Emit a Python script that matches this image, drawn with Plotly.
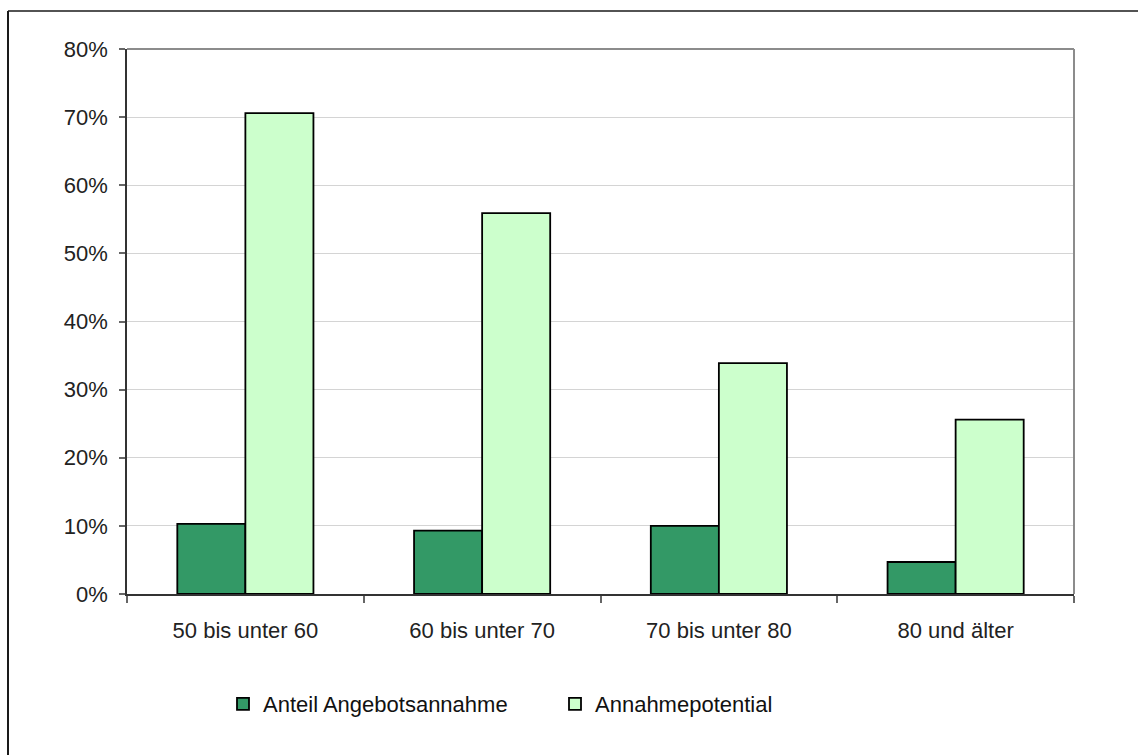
import plotly.graph_objects as go

# Altersgruppen und Anteile (in %)
categories = ["50 bis unter 60", "60 bis unter 70", "70 bis unter 80", "80 und älter"]
anteil_angebotsannahme = [10.3, 9.3, 10.0, 4.7]
annahmepotential = [70.6, 55.9, 33.9, 25.6]
y_ticks = [0, 10, 20, 30, 40, 50, 60, 70, 80]
y_labels = [f"{v}%" for v in y_ticks]

W, H = 1138, 755
L, R, T, B = 127, 64, 49, 161
FONT = "Liberation Sans, Arial, Helvetica, sans-serif"
FS = 22

fig = go.Figure()
fig.add_trace(go.Bar(
    x=categories, y=anteil_angebotsannahme, name="Anteil Angebotsannahme",
    marker=dict(color="#339966", line=dict(color="#000000", width=1.8)),
    legend="legend", showlegend=True,
))
fig.add_trace(go.Bar(
    x=categories, y=annahmepotential, name="Annahmepotential",
    marker=dict(color="#CCFFCC", line=dict(color="#000000", width=1.8)),
    legend="legend2", showlegend=True,
))

pw = W - L - R
ph = H - T - B


def px_x(p):
    return (p - L) / pw


def px_y(p):
    return (H - B - p) / ph


shapes = [
    # Plot-Rahmen oben und rechts
    dict(type="line", xref="paper", yref="paper", x0=0, x1=1, y0=1, y1=1,
         line=dict(color="#8c8c8c", width=2)),
    dict(type="line", xref="paper", yref="paper", x0=1, x1=1, y0=0, y1=1,
         line=dict(color="#8c8c8c", width=2)),
    # Äußerer Diagrammrahmen
    dict(type="line", xref="paper", yref="paper", x0=px_x(8), x1=px_x(8),
         y0=px_y(11), y1=px_y(H + 5), line=dict(color="#1a1a1a", width=2)),
    dict(type="line", xref="paper", yref="paper", x0=px_x(8), x1=px_x(W + 5),
         y0=px_y(11), y1=px_y(11), line=dict(color="#1a1a1a", width=1.5)),
]

legend_style = dict(orientation="h", xanchor="left", y=px_y(704), yanchor="middle",
                    font=dict(size=FS, color="#111111"), bgcolor="rgba(0,0,0,0)")

fig.update_layout(
    width=W, height=H,
    margin=dict(l=L, r=R, t=T, b=B, pad=0),
    paper_bgcolor="white", plot_bgcolor="white",
    font=dict(family=FONT, size=FS, color="#222222"),
    barmode="group", bargap=0.425, bargroupgap=0,
    shapes=shapes,
    showlegend=True,
    legend=dict(x=px_x(223), **legend_style),
    legend2=dict(x=px_x(555), **legend_style),
    xaxis=dict(
        showline=True, linecolor="#333333", linewidth=1.5,
        ticks="outside", tickson="boundaries", ticklen=7, tickcolor="#666666", tickwidth=1.5,
        ticklabelstandoff=16,
        showgrid=False, tickfont=dict(size=FS, color="#222222"),
    ),
    yaxis=dict(
        range=[0, 80], tickvals=y_ticks, ticktext=y_labels,
        showline=True, linecolor="#333333", linewidth=1.5,
        ticks="outside", ticklen=6, tickcolor="#666666", tickwidth=1.5,
        ticklabelstandoff=7,
        showgrid=True, gridcolor="#d4d4d4", gridwidth=1,
        zeroline=False, tickfont=dict(size=FS, color="#222222"),
    ),
)

fig.write_html("out.html")
